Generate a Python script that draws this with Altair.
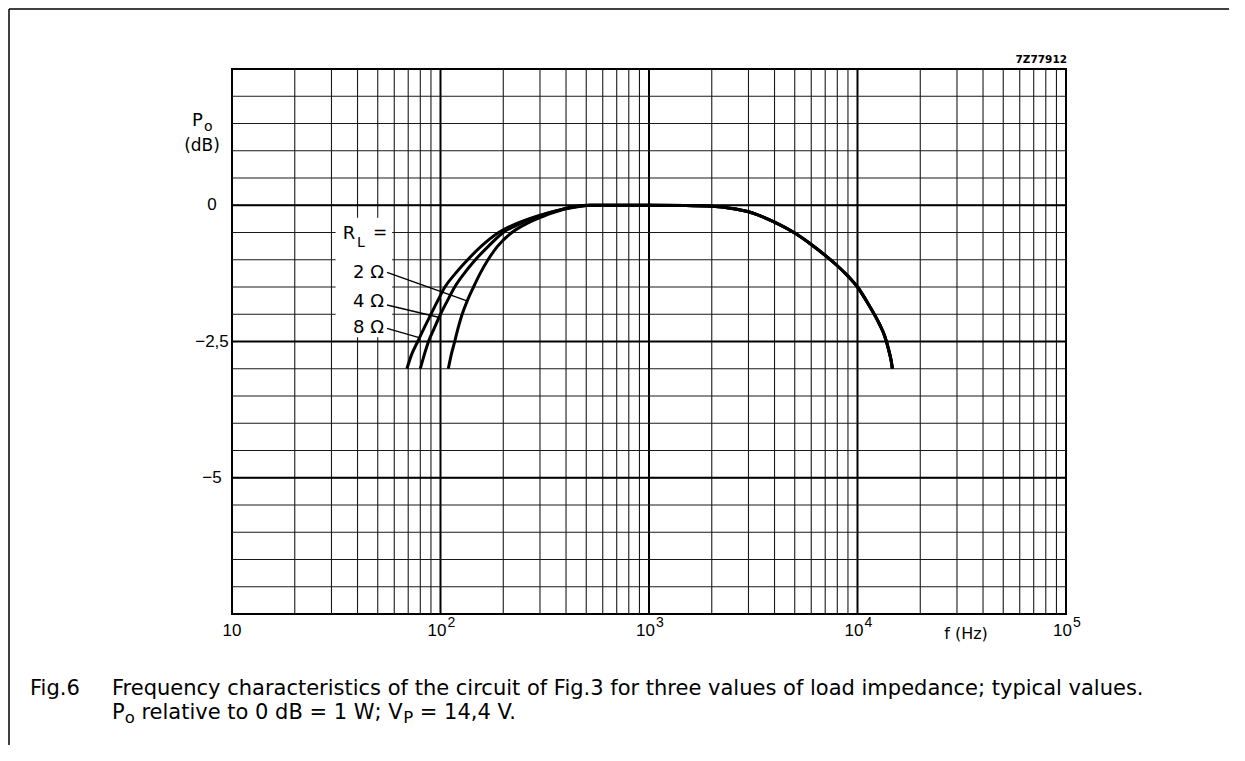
import altair as alt
import pandas as pd

# ---------------- data ----------------
# low-frequency roll-off of each load (Hz, dB)
f_8ohm = [69, 72.5, 77.8, 83.5, 90, 97, 105, 118, 135, 157, 190, 230, 265, 355, 444]
p_8ohm = [-3.0, -2.75, -2.5, -2.25, -2.0, -1.75, -1.5, -1.25, -1.0, -0.75, -0.5, -0.34, -0.25, -0.11, -0.02]
f_4ohm = [80, 83.5, 87.6, 93.5, 100, 108, 117, 130, 147, 170, 200, 240, 275, 360, 460]
p_4ohm = [-3.0, -2.75, -2.5, -2.25, -2.0, -1.75, -1.5, -1.25, -1.0, -0.75, -0.5, -0.34, -0.24, -0.1, -0.02]
f_2ohm = [109, 112.5, 117, 121.5, 127, 134.5, 144, 155, 169, 188, 220, 255, 290, 370, 470]
p_2ohm = [-3.0, -2.75, -2.5, -2.25, -2.0, -1.75, -1.5, -1.25, -1.0, -0.75, -0.5, -0.35, -0.25, -0.1, -0.02]
# common mid/high-frequency part (Hz, dB)
f_high = [520, 700, 1000, 1500, 2000, 2500, 3000, 4000, 5000, 6000, 7000, 8000, 9000,
          10000, 11300, 12700, 13500, 14100, 14500, 14700]
p_high = [0, 0, 0, -0.005, -0.02, -0.06, -0.12, -0.31, -0.51, -0.72, -0.92, -1.11, -1.3,
          -1.5, -1.82, -2.17, -2.4, -2.65, -2.85, -3.0]

loads = ["2 Ω", "4 Ω", "8 Ω"]
# leader lines: label end (Hz, dB) -> point on curve (Hz, dB)
lead_f1 = [55.4, 55.4, 55.4]
lead_p1 = [-1.23, -1.83, -2.26]
lead_f2 = [135, 99, 79]
lead_p2 = [-1.76, -2.06, -2.43]
label_p = [-1.33, -1.86, -2.34]      # baselines of the load labels (dB)

x_tick_f = [10, 100, 1000, 10000, 100000]
x_tick_exp = ["", "2", "3", "4", "5"]
y_tick_v = [0, -2.5, -5]
y_tick_txt = ["0", "−2,5", "−5"]

# ---------------- layout ----------------
W, H = 834, 545
FONT = "Liberation Sans"
FONT2 = "DejaVu Sans"
xs = alt.Scale(type="log", domain=[10, 100000], nice=False)
ys = alt.Scale(domain=[-7.5, 2.5], nice=False, zero=False)


def X(field):
    return alt.X(field, type="quantitative", scale=xs, axis=None)


def Y(field):
    return alt.Y(field, type="quantitative", scale=ys, axis=None)


grid_minor = [m * d for d in [10, 100, 1000, 10000] for m in range(2, 10)]
grid_major = [100, 1000, 10000]
hgrid = [-7.5 + 0.5 * i for i in range(1, 20)]
hgrid_major = [0, -2.5, -5]

layers = []
layers.append(alt.Chart(pd.DataFrame({"f": grid_minor})).mark_rule(
    color="#1a1a1a", strokeWidth=1.1).encode(x=X("f")))
layers.append(alt.Chart(pd.DataFrame({"f": grid_major})).mark_rule(
    color="black", strokeWidth=2).encode(x=X("f")))
layers.append(alt.Chart(pd.DataFrame({"p": hgrid})).mark_rule(
    color="#1a1a1a", strokeWidth=1.2).encode(y=Y("p")))
layers.append(alt.Chart(pd.DataFrame({"p": hgrid_major})).mark_rule(
    color="black", strokeWidth=2).encode(y=Y("p")))

# white patch behind the R_L labels
layers.append(alt.Chart(pd.DataFrame({"f1": [31.4], "f2": [58.6], "p1": [-0.23], "p2": [-2.42]}))
              .mark_rect(color="white").encode(x=X("f1"), x2="f2", y=Y("p1"), y2="p2"))

rows = []
for name, fl, pl in [("2 Ω", f_2ohm, p_2ohm), ("4 Ω", f_4ohm, p_4ohm), ("8 Ω", f_8ohm, p_8ohm)]:
    for f, p in zip(fl + f_high, pl + p_high):
        rows.append({"load": name, "f": f, "p": p})
curves = pd.DataFrame(rows)
layers.append(alt.Chart(curves).mark_line(
    color="black", strokeWidth=3, interpolate="monotone", strokeCap="butt").encode(
    x=X("f"), y=Y("p"), detail="load:N"))

leaders = pd.DataFrame({"f1": lead_f1, "p1": lead_p1, "f2": lead_f2, "p2": lead_p2})
layers.append(alt.Chart(leaders).mark_rule(color="black", strokeWidth=1.4).encode(
    x=X("f1"), x2="f2", y=Y("p1"), y2="p2"))

labels = pd.DataFrame({"t": loads, "f": [53.6] * 3, "p": label_p})
layers.append(alt.Chart(labels).mark_text(
    font=FONT2, fontSize=18, align="right", baseline="alphabetic", color="black").encode(
    x=X("f"), y=Y("p"), text="t:N"))

rl = pd.DataFrame({"t": ["R", "L", "="], "f": [34.0, 39.8, 47.5], "p": [-0.62, -0.76, -0.6],
                   "s": [18, 14, 17]})
layers.append(alt.Chart(rl).mark_text(
    font=FONT2, align="left", baseline="alphabetic", color="black").encode(
    x=X("f"), y=Y("p"), text="t:N", size=alt.Size("s:Q", scale=None, legend=None)))

# x tick labels
xt = pd.DataFrame({"f": x_tick_f, "e": x_tick_exp, "b": ["10"] * 5})
layers.append(alt.Chart(xt.iloc[:1]).mark_text(
    font=FONT, fontSize=17, align="center", baseline="alphabetic", color="black").encode(
    x=X("f"), y=alt.value(H + 22), text="b:N"))
layers.append(alt.Chart(xt.iloc[1:]).mark_text(
    font=FONT, fontSize=17, align="right", baseline="alphabetic", dx=6, color="black").encode(
    x=X("f"), y=alt.value(H + 22), text="b:N"))
layers.append(alt.Chart(xt.iloc[1:]).mark_text(
    font=FONT, fontSize=14, align="left", baseline="alphabetic", dx=7, color="black").encode(
    x=X("f"), y=alt.value(H + 13), text="e:N"))
layers.append(alt.Chart(pd.DataFrame({"t": ["f (Hz)"]})).mark_text(
    font=FONT2, fontSize=16, align="center", baseline="alphabetic", color="black").encode(
    x=alt.value(734), y=alt.value(H + 25), text="t:N"))

# y tick labels
yt = pd.DataFrame({"v": y_tick_v, "t": y_tick_txt})
layers.append(alt.Chart(yt).mark_text(
    font=FONT, fontSize=17, align="center", baseline="middle", color="black").encode(
    x=alt.value(-20), y=Y("v"), text="t:N"))

# y title P_o (dB)
yttl = pd.DataFrame({"t": ["P", "o", "(dB)"], "x": [-40, -28, -30], "y": [57, 62, 82],
                     "s": [18, 14, 17], "a": ["left", "left", "center"]})
for i in range(3):
    layers.append(alt.Chart(yttl.iloc[i:i + 1]).mark_text(
        font=FONT2, fontSize=int(yttl.s[i]), align=yttl.a[i], baseline="alphabetic",
        color="black").encode(x=alt.value(int(yttl.x[i])), y=alt.value(int(yttl.y[i])), text="t:N"))

# drawing number
layers.append(alt.Chart(pd.DataFrame({"t": ["7Z77912"]})).mark_text(
    font=FONT2, fontSize=10.5, fontWeight="bold", align="right", baseline="alphabetic",
    color="black").encode(x=alt.value(W + 1), y=alt.value(-6), text="t:N"))

# caption (DejaVu Sans advance widths, em/1000)
AW = {" ": 318, "r": 411, "e": 615, "l": 278, "a": 613, "t": 392, "i": 278, "v": 592, "o": 612,
      "0": 636, "d": 635, "B": 686, "=": 838, "1": 636, "W": 989, ";": 337, "V": 684, "P": 603,
      "4": 636, ",": 318, ".": 318}


def tw(s, size):
    return sum(AW[c] for c in s) * size / 1000.0


CF, SF = 21, 16.5
cap1_y, cap2_y = 626, 650
x0 = -120
segs = []
xx = x0
segs.append(("P", xx, cap2_y, CF)); xx += tw("P", CF)
segs.append(("o", xx, cap2_y + 4, SF)); xx += tw("o", SF) + tw(" ", CF)
s3 = "relative to 0 dB = 1 W; V"
segs.append((s3, xx, cap2_y, CF)); xx += tw(s3, CF)
segs.append(("P", xx, cap2_y + 4, SF)); xx += tw("P", SF) + tw(" ", CF)
segs.append(("= 14,4 V.", xx, cap2_y, CF))
segs.append(("Fig.6", -202, cap1_y, CF))
segs.append(("Frequency characteristics of the circuit of Fig.3 for three values of load impedance; typical values.",
             x0, cap1_y, CF))
for t, sx, sy, sz in segs:
    layers.append(alt.Chart(pd.DataFrame({"t": [t]})).mark_text(
        font=FONT2, fontSize=sz, align="left", baseline="alphabetic", color="black").encode(
        x=alt.value(sx), y=alt.value(sy), text="t:N"))

# outer frame (top and left edges)
layers.append(alt.Chart(pd.DataFrame({"a": [0]})).mark_rule(color="black", strokeWidth=1.5).encode(
    x=alt.value(-223), y=alt.value(-60), y2=alt.value(676)))
layers.append(alt.Chart(pd.DataFrame({"a": [0]})).mark_rule(color="black", strokeWidth=1.5).encode(
    x=alt.value(-223), x2=alt.value(997), y=alt.value(-60)))

chart = alt.layer(*layers).properties(
    width=W, height=H,
    autosize=alt.AutoSizeParams(type="none"),
    padding={"left": 224, "top": 61, "right": 163, "bottom": 131},
).configure_view(stroke="black", strokeWidth=2)

chart.save("out.html", embed_options={"renderer": "svg", "actions": False})
